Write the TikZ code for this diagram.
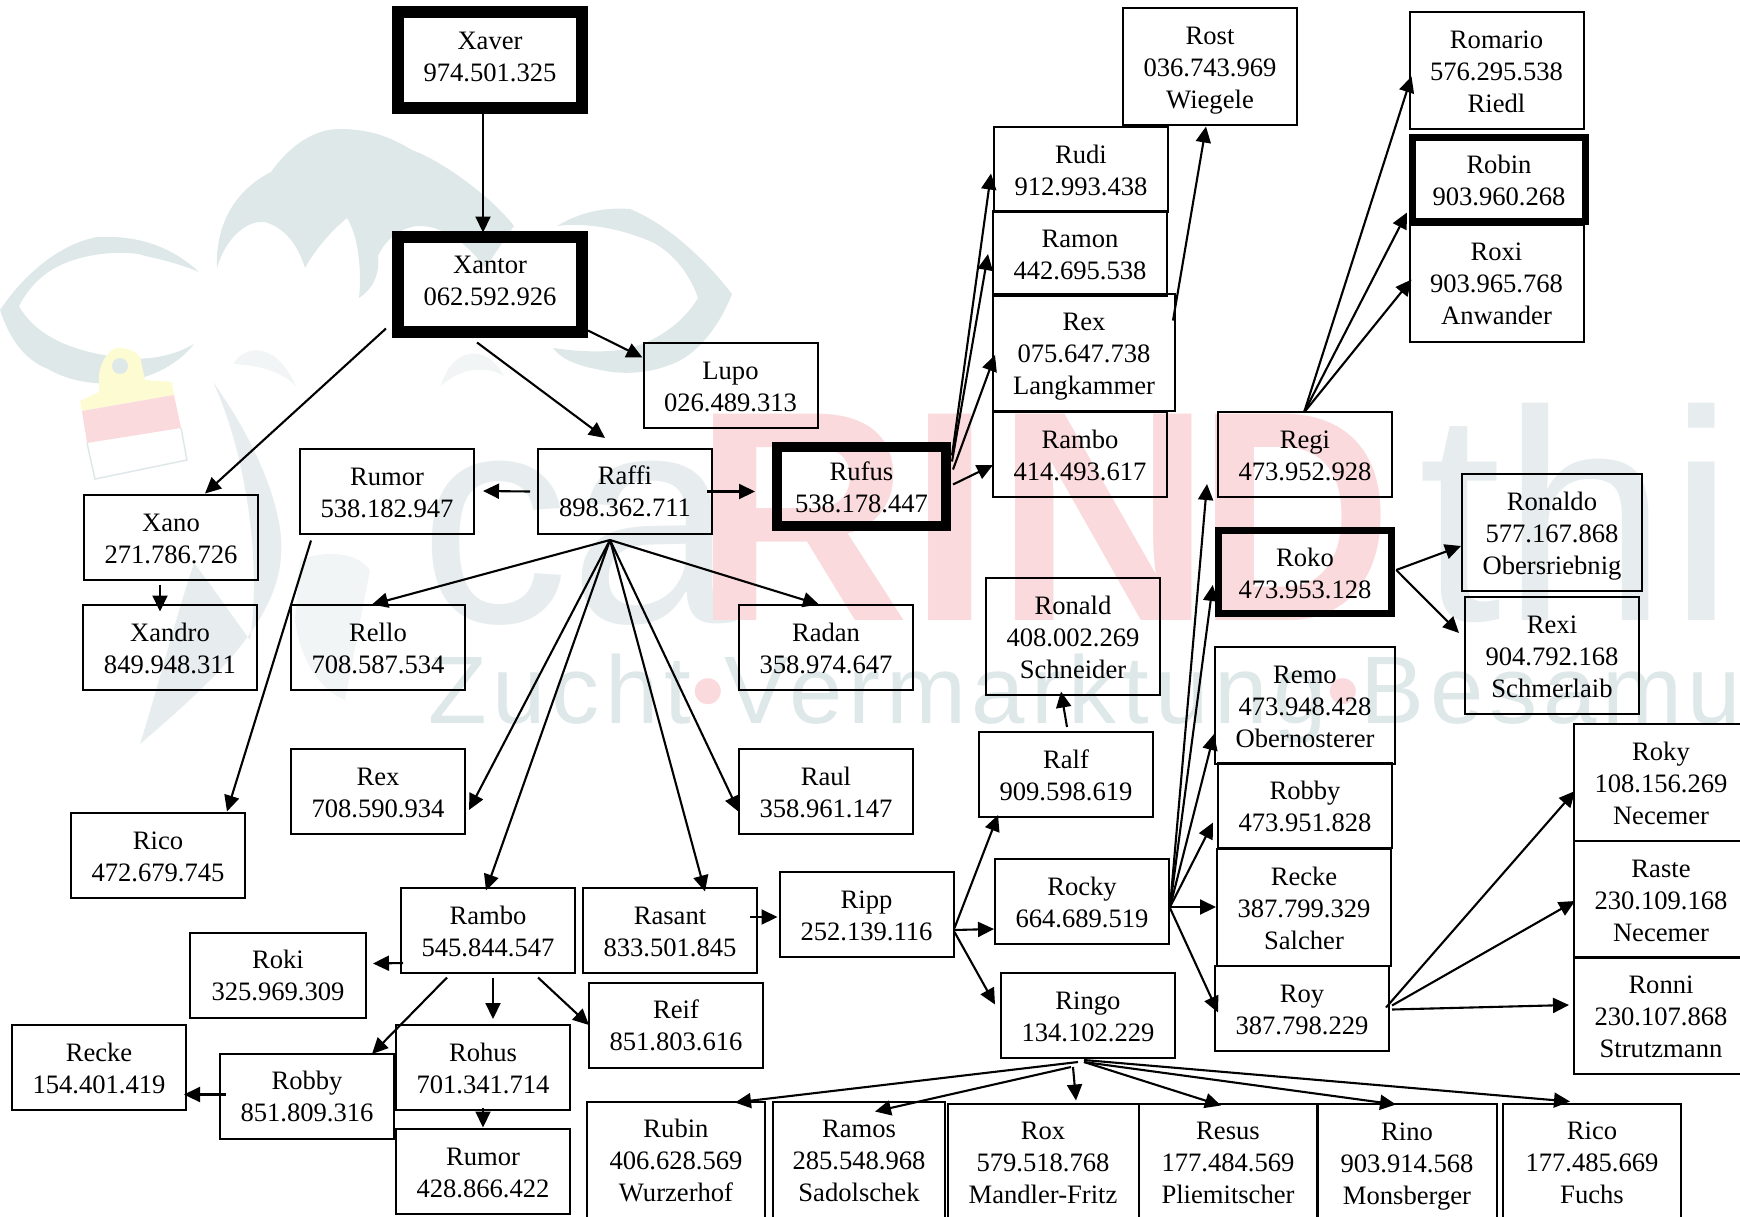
\documentclass[tikz,border=0pt]{standalone}
\usepackage{fontspec}
\usetikzlibrary{arrows.meta}
\setmainfont{Liberation Serif}
\newfontfamily\wmsans{Liberation Sans}
\newfontfamily\wmline[LetterSpace=6]{Liberation Sans}
\definecolor{wmgrey}{HTML}{DFE8E9}
\definecolor{wmsoft}{HTML}{E7EDEE}
\definecolor{wmpale}{HTML}{F1F5F5}
\definecolor{wmpink}{HTML}{FADADC}
\definecolor{wmyellow}{HTML}{FDFBD2}
\def\boxht{58pt}
\def\boxdp{6pt}
\tikzset{
  box/.style={draw,line width=2pt,align=center,inner sep=0pt,minimum width=174pt,minimum height=85pt,
    font=\fontsize{26.6}{32}\selectfont,
    execute at begin node={\rule{0pt}{\boxht}},execute at end node={\rule[-\boxdp]{0pt}{\boxdp}}},
  tall/.style={box,minimum height=117pt,/utils/exec={\def\boxht{90pt}}},
  heavy/.style={box,line width=#1},
  lift/.style={/utils/exec={\def\boxdp{#1}}},
  link/.style={-{Triangle[length=16pt,width=15pt]},line width=2.1pt},
  wmark/.style={anchor=base west,inner sep=0pt},
  wmbig/.style={wmark,text=wmpink,font=\wmsans\bfseries\fontsize{300}{300}\selectfont},
}
\begin{document}
\begin{tikzpicture}[x=1pt,y=-1pt]
\useasboundingbox (0,0) rectangle (1740,1216);
\clip (0,0) rectangle (1740,1216);

% watermark
\fill[wmgrey] (217,268) .. controls (215,225) and (235,190) .. (271,172)
  .. controls (290,145) and (315,129) .. (339,129) .. controls (375,129) and (395,140) .. (412,150)
  .. controls (440,160) and (490,195) .. (514,226) -- (485,268) .. controls (465,240) and (440,225) .. (417,226)
  .. controls (400,228) and (385,240) .. (378,256) .. controls (380,275) and (372,290) .. (359,298)
  .. controls (362,270) and (358,235) .. (347,218) .. controls (330,232) and (315,250) .. (305,268)
  .. controls (298,245) and (285,228) .. (265,222) .. controls (245,220) and (225,240) .. (217,268) -- cycle;
\fill[wmgrey] (199,272) .. controls (170,245) and (135,235) .. (97,237) .. controls (55,245) and (20,280) .. (0,310)
  .. controls (10,340) and (25,360) .. (48,369) .. controls (70,382) and (100,386) .. (121,382)
  .. controls (155,378) and (180,362) .. (194,344) .. controls (170,358) and (140,362) .. (110,356)
  .. controls (70,350) and (35,335) .. (19,306) .. controls (30,285) and (45,272) .. (63,264)
  .. controls (90,252) and (130,250) .. (145,256) .. controls (165,260) and (185,266) .. (199,272) -- cycle;
\fill[wmgrey] (557,226) .. controls (580,212) and (605,207) .. (630,209) .. controls (670,225) and (710,265) .. (732,294)
  .. controls (720,325) and (700,350) .. (679,361) .. controls (650,375) and (620,375) .. (596,369)
  .. controls (575,365) and (560,358) .. (553,348) .. controls (580,352) and (610,353) .. (630,348)
  .. controls (660,340) and (685,320) .. (698,298) .. controls (690,275) and (675,255) .. (654,243)
  .. controls (625,230) and (590,222) .. (557,226) -- cycle;
\fill[wmsoft] (213,382) .. controls (255,440) and (285,510) .. (281,555) .. controls (278,620) and (215,680) .. (140,744)
  .. controls (160,680) and (175,620) .. (194,563) .. controls (215,590) and (235,620) .. (250,640)
  .. controls (262,560) and (245,450) .. (213,382) -- cycle;
\fill[wmpale] (233,364) .. controls (245,345) and (275,340) .. (296,386) .. controls (280,370) and (255,365) .. (233,364) -- cycle;
\fill[wmpale] (441,386) .. controls (450,350) and (485,340) .. (504,376) .. controls (485,365) and (460,368) .. (441,386) -- cycle;
\fill[wmpale] (300,560) .. controls (330,548) and (360,555) .. (370,570) -- (345,700) .. controls (320,690) and (300,660) .. (295,620) -- cycle;
% brush
\fill[wmyellow] (80,401) -- (99,392) -- (99,374) .. controls (102,355) and (115,346) .. (119,348)
  .. controls (132,348) and (141,355) .. (141,361) -- (145,380) -- (172,382) -- (174,395) -- (82,411) -- cycle;
\fill[wmpink] (82,411) -- (174,395) -- (181,428) -- (87,443) -- cycle;
\draw[wmgrey,line width=1.5pt] (87,443) -- (95,479) -- (187,460) -- (181,428);
\fill[wmgrey] (120,366) circle (8);
\node (wmca) at (419,622)[wmark,text=wmsoft,font=\wmsans\fontsize{300}{300}\selectfont] {ca};
\node (wmR) at (693,620)[wmbig] {R};
\node (wmI) at (908,620)[wmbig] {I};
\node (wmN) at (995,620)[wmbig] {N};
\node (wmD) at (1197,620)[wmbig] {\scalebox{.9}[1]{D}};
\node (wmthi) at (1418,620)[wmark,text=wmsoft,font=\wmsans\fontsize{300}{300}\selectfont] {thi};
\node (wmline) at (428,723.5)[wmark,text=wmgrey,font=\wmline\fontsize{96}{96}\selectfont]
  {Zucht\textcolor{wmpink}{•}Vermarktung\textcolor{wmpink}{•}Besamu};

% family
\node(Xaver) at (490,60)[heavy=12pt,lift=16pt,minimum width=184pt,minimum height=96pt] {Xaver\\974.501.325};
\node(Xantor) at (490,284)[heavy=12pt,lift=16pt,minimum width=184pt,minimum height=95pt] {Xantor\\062.592.926};
\node(Lupo) at (730.5,385.5)[box] {Lupo\\026.489.313};
\node(Rumor538) at (387,491)[box] {Rumor\\538.182.947};
\node(Raffi) at (625,491.5)[box,lift=8pt] {Raffi\\898.362.711};
\node(Rufus) at (861.5,486.5)[heavy=10pt,minimum width=169pt,minimum height=79pt] {Rufus\\538.178.447};
\node(Xano) at (171,537)[box] {Xano\\271.786.726};
\node(Xandro) at (170,647)[box] {Xandro\\849.948.311};
\node(Rello) at (378,647)[box] {Rello\\708.587.534};
\node(Radan) at (826,647)[box] {Radan\\358.974.647};
\node(Rex708) at (378,791)[box] {Rex\\708.590.934};
\node(Raul) at (826,791)[box] {Raul\\358.961.147};
\node(Rico472) at (158,855)[box] {Rico\\472.679.745};
\node(Rambo545) at (488,930)[box] {Rambo\\545.844.547};
\node(Rasant) at (670,930)[box] {Rasant\\833.501.845};
\node(Ripp) at (866.5,914)[box] {Ripp\\252.139.116};
\node(Roki) at (278,975.5)[box,lift=8pt,minimum width=176pt] {Roki\\325.969.309};
\node(Reif) at (676,1025)[box,lift=8pt] {Reif\\851.803.616};
\node(Recke154) at (99,1067.5)[box] {Recke\\154.401.419};
\node(Robby851) at (307,1096.5)[box,lift=8pt] {Robby\\851.809.316};
\node(Rohus) at (483,1067.5)[box] {Rohus\\701.341.714};
\node(Rumor428) at (483,1171)[box] {Rumor\\428.866.422};
\node(Rubin) at (676,1160)[tall,lift=8pt,minimum width=178pt] {Rubin\\406.628.569\\Wurzerhof};
\node(Ramos) at (859,1160)[tall,lift=8pt,minimum width=172pt] {Ramos\\285.548.968\\Sadolschek};
\node(Rox) at (1043,1162)[tall,lift=8pt,minimum width=191pt] {Rox\\579.518.768\\Mandler-Fritz};
\node(Resus) at (1228,1162)[tall,lift=8pt,minimum width=179pt] {Resus\\177.484.569\\Pliemitscher};
\node(Rino) at (1407,1162)[tall,minimum width=180pt] {Rino\\903.914.568\\Monsberger};
\node(Rico177) at (1592,1162)[tall,lift=8pt,minimum width=178pt] {Rico\\177.485.669\\Fuchs};
\node(Rost) at (1210,66)[tall] {Rost\\036.743.969\\Wiegele};
\node(Romario) at (1496.5,70.4)[tall] {Romario\\576.295.538\\Riedl};
\node(Robin) at (1499,179.5)[heavy=7pt,minimum width=173pt,minimum height=84pt] {Robin\\903.960.268};
\node(Roxi) at (1496.5,283.5)[tall,lift=8pt] {Roxi\\903.965.768\\Anwander};
\node(Rudi) at (1081,169.5)[box] {Rudi\\912.993.438};
\node(Ramon) at (1080,253)[box] {Ramon\\442.695.538};
\node(Rex075) at (1084,352)[tall,minimum width=182pt] {Rex\\075.647.738\\Langkammer};
\node(Rambo414) at (1080,454)[box] {Rambo\\414.493.617};
\node(Regi) at (1305,454)[box] {Regi\\473.952.928};
\node(Roko) at (1305,572)[heavy=7.5pt,minimum width=173pt,minimum height=83pt] {Roko\\473.953.128};
\node(Ronaldo) at (1552,532)[tall,minimum width=180pt] {Ronaldo\\577.167.868\\Obersriebnig};
\node(Rexi) at (1552,655)[tall] {Rexi\\904.792.168\\Schmerlaib};
\node(Ronald) at (1073,636)[tall] {Ronald\\408.002.269\\Schneider};
\node(Ralf) at (1066,774.5)[box] {Ralf\\909.598.619};
\node(Rocky) at (1082,901)[box] {Rocky\\664.689.519};
\node(Ringo) at (1088,1015.5)[box] {Ringo\\134.102.229};
\node(Remo) at (1305,705)[tall,minimum width=180pt] {Remo\\473.948.428\\Obernosterer};
\node(Robby473) at (1305,805.5)[box] {Robby\\473.951.828};
\node(Recke387) at (1304,907)[tall] {Recke\\387.799.329\\Salcher};
\node(Roy) at (1302,1008.5)[box] {Roy\\387.798.229};
\node(Roky) at (1661,782)[tall] {Roky\\108.156.269\\Necemer};
\node(Raste) at (1661,899)[tall] {Raste\\230.109.168\\Necemer};
\node(Ronni) at (1661,1015)[tall] {Ronni\\230.107.868\\Strutzmann};

\path [link]
  ([xshift=-7pt]Xaver.south) edge ([xshift=-7pt,yshift=-2pt]Xantor.north)
  ([yshift=7pt]Xantor.south east) edge ([yshift=28pt]Lupo.west)
  ([xshift=-13pt,yshift=-5pt]Xantor.south) edge ([xshift=-20pt,yshift=10pt]Raffi.north)
  ([xshift=-6pt,yshift=9pt]Xantor.south west) edge ([xshift=34pt]Xano.north)
  ([xshift=-7pt]Raffi.west) edge ([xshift=8pt]Rumor538.east)
  ([xshift=-6pt]Raffi.east) edge ([xshift=-17pt,yshift=-5pt]Rufus.west)
  ([xshift=-11pt,yshift=-4pt]Xano.south) edge ([xshift=-10pt,yshift=-8pt]Xandro.north)
  ([xshift=-76pt,yshift=-6pt]Rumor538.south) edge ([xshift=69pt]Rico472.north)
  ([xshift=-15pt,yshift=-5pt]Raffi.south) edge ([xshift=-6pt,yshift=-1pt]Rello.north)
  ([xshift=-15pt,yshift=-5pt]Raffi.south) edge ([xshift=-7pt,yshift=-1pt]Radan.north)
  ([xshift=-15pt,yshift=-5pt]Raffi.south) edge ([xshift=3pt,yshift=-19pt]Rex708.east)
  ([xshift=-15pt,yshift=-5pt]Raffi.south) edge ([xshift=-2pt,yshift=-4pt]Rambo545.north)
  ([xshift=-15pt,yshift=-5pt]Raffi.south) edge ([xshift=35pt,yshift=-5pt]Rasant.north)
  ([xshift=-15pt,yshift=-5pt]Raffi.south) edge ([xshift=1pt,yshift=-21pt]Raul.west)
  ([xshift=-8pt,yshift=13pt]Rasant.east) edge ([xshift=-1pt,yshift=-3pt]Ripp.west)
  ([xshift=3pt,yshift=-33pt]Rambo545.west) edge ([xshift=6pt,yshift=12pt]Roki.east)
  ([xshift=5pt,yshift=-4pt]Rambo545.south) edge ([xshift=10pt,yshift=5pt]Rohus.north)
  ([xshift=50pt,yshift=-4pt]Rambo545.south) edge ([xshift=1pt]Reif.west)
  ([xshift=-41pt,yshift=-4pt]Rambo545.south) edge ([xshift=65pt,yshift=-1pt]Robby851.north)
  ([xshift=7pt,yshift=2pt]Robby851.west) edge ([xshift=-3pt,yshift=-27pt]Recke154.east)
  ([yshift=3pt]Rohus.south) edge (Rumor428.north)
  ([xshift=1pt,yshift=31pt]Rufus.east) edge ([xshift=-2pt,yshift=-4pt]Rudi.west)
  ([xshift=1pt,yshift=25pt]Rufus.east) edge ([xshift=-4pt,yshift=-1pt]Ramon.west)
  ([xshift=2pt,yshift=17pt]Rufus.east) edge ([xshift=3pt,yshift=-3pt]Rex075.west)
  ([xshift=2pt,yshift=2pt]Rufus.east) edge ([xshift=1pt,yshift=-11pt]Rambo414.west)
  ([xshift=-3pt,yshift=-28pt]Rex075.north east) edge ([xshift=-4pt,yshift=-1pt]Rost.south)
  ([xshift=-1pt,yshift=-2pt]Regi.north) edge ([xshift=3pt,yshift=-6pt]Romario.west)
  ([xshift=-1pt,yshift=-2pt]Regi.north) edge ([xshift=-2pt,yshift=-33pt]Robin.west)
  ([xshift=-1pt,yshift=-2pt]Regi.north) edge ([xshift=3pt,yshift=4pt]Roxi.west)
  ([xshift=1pt,yshift=2pt]Roko.east) edge ([yshift=-14pt]Ronaldo.west)
  ([xshift=1pt,yshift=2pt]Roko.east) edge ([xshift=-5pt,yshift=22pt]Rexi.west)
  ([yshift=-14pt]Ripp.east) edge ([xshift=-68pt,yshift=3pt]Ralf.south)
  ([yshift=-16pt]Ripp.east) edge ([yshift=-28pt]Rocky.west)
  ([yshift=-18pt]Ripp.east) edge ([xshift=-5pt,yshift=11pt]Ringo.west)
  ([xshift=1pt,yshift=4pt]Ralf.north) edge ([xshift=-12pt,yshift=4pt]Ronald.south)
  ([yshift=-6pt]Rocky.east) edge ([xshift=-10pt,yshift=-30pt]Regi.west)
  ([yshift=-6pt]Rocky.east) edge ([xshift=-2pt,yshift=-13pt]Roko.west)
  ([yshift=-6pt]Rocky.east) edge ([yshift=-29pt]Remo.west)
  ([yshift=-6pt]Rocky.east) edge ([xshift=-4pt,yshift=-17pt]Robby473.west)
  ([yshift=-6pt]Rocky.east) edge ([yshift=-6pt]Recke387.west |- Rocky.east)
  ([yshift=-7pt]Rocky.east) edge ([xshift=4pt,yshift=-4pt]Roy.west)
  ([xshift=-4pt,yshift=1pt]Roy.east) edge ([xshift=2pt,yshift=-9pt]Roky.west)
  ([xshift=2pt,yshift=3pt]Roy.east) edge ([xshift=2pt,yshift=-2pt]Raste.west)
  ([xshift=2pt,yshift=-1pt]Roy.east) edge ([xshift=-4pt,yshift=10pt]Ronni.west)
  ([xshift=-10pt,yshift=-3pt]Ringo.south) edge ([xshift=59pt,yshift=-2pt]Rubin.north)
  ([xshift=-17pt,yshift=-8pt]Ringo.south) edge ([xshift=16pt,yshift=-11pt]Ramos.north)
  ([xshift=-15pt,yshift=-8pt]Ringo.south) edge ([xshift=33pt,yshift=2pt]Rox.north)
  ([xshift=-4pt,yshift=-3pt]Ringo.south) edge ([xshift=-7pt,yshift=-3pt]Resus.north)
  ([xshift=-4pt,yshift=-3pt]Ringo.south) edge ([xshift=-11pt,yshift=-2pt]Rino.north)
  ([xshift=-4pt,yshift=-1pt]Ringo.south) edge ([xshift=-22pt,yshift=1pt]Rico177.north);
\end{tikzpicture}
\end{document}
